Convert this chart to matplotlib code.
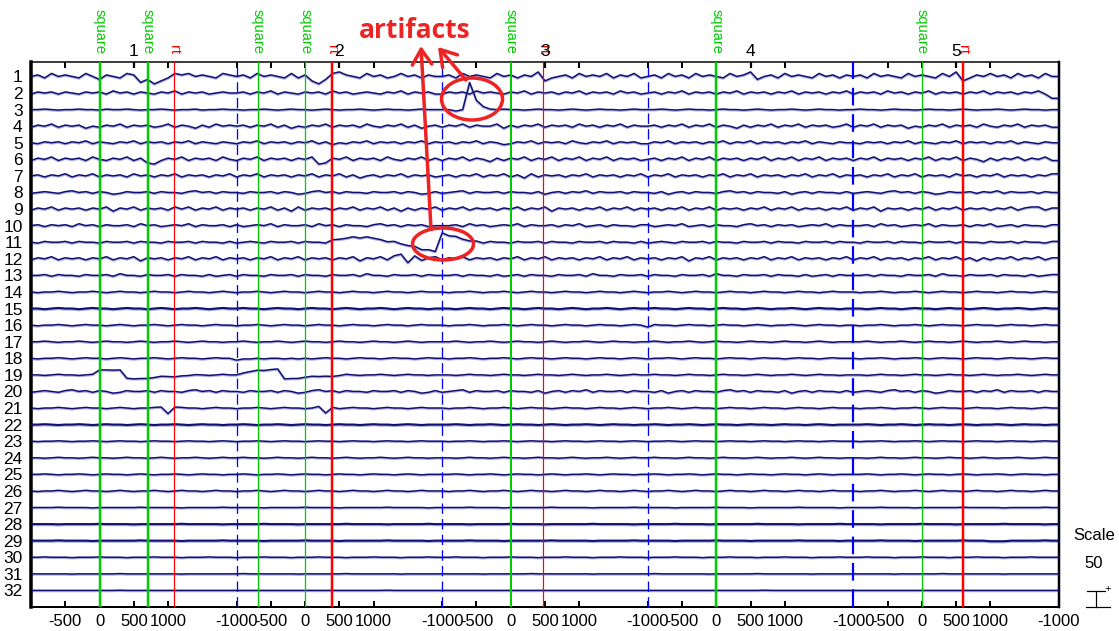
"""
EEG epoch scroll view (32 channels, 5 epochs) with marked artifacts.
"""
import matplotlib
import matplotlib.pyplot as plt
from matplotlib.patches import Ellipse
from matplotlib.transforms import blended_transform_factory
import numpy as np

matplotlib.use('agg')
plt.rcParams['font.family'] = ['Liberation Sans', 'DejaVu Sans']

# --- data -----------------------------------------------------------------
n_epochs = 5
epoch_times = [-1000, 2000]          # ms, per epoch
samples_per_epoch = 30
spacing = 50                         # uV between channels (= scale)
channels = list(range(1, 33))

# hand read wiggles, one digit per 100 ms sample, '5' = baseline, 5 groups = epochs
channel_wiggles = [
    "564756547536547613024767565476 564756547462037865475645756465 564756547564658245647565746574 564756475654756835647565475646 564756547565475824657564756475",
    "465646546564756465465746564565 564657465465647564565465746564 465647565465746564657465647564 564657465646574656465746564657 465647564657465646574656465740",
    "556545565546556545565455645565 545565456554565455654565545655 554565545655456554565456554565 556545655456554565455654565545 565545655456554565455654565545",
    "465746563546574656457465364756 564657463546574656475465746356 465746557364657465647564657465 564657465746536465746574656457 465746563546574656475465746564",
    "546564657465465746564657465465 465746564657463546574656465746 564657465346574656475465746564 465746564657465746564657465465 546564657465465746564657465465",
    "465746564754657462146574656475 465746564657126574656475465746 465746536465746574657465746564 564657465746564657465746574656 465746564657465746536465746574",
    "564657465746564756465746564657 465746564657465746356465746564 564657465746374656465746564657 465746564657465746564657465746 564657465746564756465746564657",
    "456546756465346556465546756465 546556465346756465546556465346 456746556465546356465746556465 546356465546756465546356465546 456546756465346556465746556465",
    "465746564657365746564757465746 564657463746564657465746364657 465746564657465736564657465746 564657465746564657465746564657 465736564657465746564657467746",
    "564656475646556475645657465564 645657465564756465546756465645 556475645657465564657456465546 645657456465546756465645657465 556475645657465564657456465546",
    "546556465546556465546556465546 456546556465546556465546556465 546556465546556465546556465546 456546556465546556465546556465 546556465546556465546556465546",
    "465746564657465736564657465746 564657465746564657365746564657 465746564657465746564657465746 564657365746564657465746564657 465746564657465746364657465746",
    "556465546556475546556465546456 465546556465546556475546556465 556465546456465546556475546556 465546556475546556465546456465 556465546556475546556465546456",
    "545565455654565545655456554565 455654565545655456554565545655 545565455654565545655456554565 455654565545655456554565545655 545565455654565545655456554565",
    "554565545655456554565455654565 565545655456554565455654565545 554565545655456554565455654565 565545655456554565455654565545 554565545655456554565455654565",
    "545565456554565455654565545655 455654565545655456554565545655 545565455654565545655456554565 265545655456554565455654565545 545565455654565545655456554565",
    "556545565456554565455654565545 565455654565545655456554565455 556545565456554565455654565545 565455654565545655456554565455 556545565456554565455654565545",
    "545565456554565455654565545655 244545545454565545655456554565 545565455654565545655456554565 455654565545655456554565545655 545565455654565545655456554565",
    "554565545655456554565455654565 565545655456554565455654565545 554565545655456554565455654565 565545655456554565455654565545 554565545655456554565455654565",
    "456546756465346556465546756465 546556465346756465546556465346 456746556465546356465746556465 546356465546756465546356465546 456546756465346556465746556465",
    "545565456554565455654565545655 455654565545655456554565545655 545565455654565545655456554565 455654565545655456554565545655 545565455654565545655456554565",
    "556545565456554565455654565545 565455654565545655456554565455 556545565456554565455654565545 565455654565545655456554565455 556545565456554565455654565545",
    "545565455654565545655456554565 455654565545655456554565545655 545565455654565545655456554565 455654565545655456554565545655 545565455654565545655456554565",
    "554565545655456554565455654565 565545655456554565455654565545 554565545655456554565455654565 565545655456554565455654565545 554565545655456554565455654565",
    "556545565456554565455654565545 565455654565545655456554565455 556545565456554565455654565545 565455654565545655456554565455 556545565456554565455654565545",
    "545565456554565455654565545655 455654565545655456554565545655 545565455654565545655456554565 455654565545655456554565545655 545565455654565545655456554565",
    "555565555455555565555545555565 555545555565555455555565555545 555565555455555565555545555565 555545555565555455555565555545 555565555455555565555545555565",
    "555545555565555455555565555545 555565555455555565555545555565 555545555565555455555565555545 555565555455555565555545555565 555545555565555455555565555545",
    "555565555455555565555545555565 555545555565555455555565555545 555565555455555565555545555565 555545555565555455555565555545 555565555455555565553335555565",
    "556555455565554555655545556555 455565554555655545556555455565 556555455565554555655545556555 455565554555655545556555455565 556555455565554555655545556555",
    "555555455555565555555545555555 565555555455555565555555455555 555555455555565555555545555555 565555555455555565555555455555 555555455555565555555545555555",
    "555555555555565555555555555555 555555555555555555555565555555 555555555555555555555555555555 555555555555555556555555555555 555555555555555555555555555555",
]
channel_gain = [4.5, 3.2, 1.5, 3.2, 2.9, 3.6, 3.2, 2.6, 3.2, 2.9,
                2.5, 3.2, 2.6, 2.1, 1.9, 2.0, 1.9, 1.9, 1.8, 2.6,
                1.9, 1.2, 1.2, 1.4, 1.4, 1.8, 0.9, 0.9, 0.9, 1.1,
                0.8, 0.6]
thick_channels = [15, 22, 28, 29]

# artifacts / steps: channel -> [(first sample, values in uV)]
bumps = {
    3: [(62, [-3, 0, 80, 28, 9, 3])],
    11: [(44, [5, 9, 12, 14, 15, 14, 12, 8, 4, 0, -5, -10, -15, -20, -25, -28,
               28, 22, 15, 9, 4, 1])],
    12: [(53, [6, 14, -15, 12, -8, 3])],
    19: [(10, [15, 15, 16, 15, -12, -12, -11, -9, -8, -6, -5, -4, -3, -2, -1]),
         (31, [4, 10, 14, 15, 16, 16, -12, -11, -9, -7, -6, -5, -4, -3, -2])],
    21: [(19, [3, -15, 3]), (42, [3, -15, 2])],
}

# events: (epoch, latency ms, type, line width px)
events = [
    (1, 0, 'square', 2.5), (1, 705, 'square', 2.5), (1, 1087, 'rt', 1.2),
    (2, -688, 'square', 1.3), (2, 0, 'square', 1.3), (2, 392, 'rt', 2.5),
    (3, 0, 'square', 2.0), (3, 471, 'rt', 1.2),
    (4, 0, 'square', 2.5),
    (5, 0, 'square', 1.2), (5, 600, 'rt', 2.5),
]
event_colors = {'square': '#00cc00', 'rt': '#ff0000'}
tick_times = [-1000, -500, 0, 500, 1000]

# --- drawing ----------------------------------------------------------------
PX = 0.72  # points per pixel at 100 dpi
epoch_len = epoch_times[1] - epoch_times[0]
total = n_epochs * epoch_len


def to_x(epoch, latency):
    return (epoch - 1) * epoch_len + latency - epoch_times[0]


fig = plt.figure(figsize=(11.19, 6.31), dpi=100)
ax = fig.add_axes([31 / 1119, 1 - 607 / 631, (1059 - 31) / 1119, (607 - 61.5) / 631])

n_samples = n_epochs * samples_per_epoch
x = np.arange(n_samples) * (epoch_len / samples_per_epoch)
x = np.append(x, total)
for ch, wig, gain in zip(channels, channel_wiggles, channel_gain):
    groups = wig.split()
    digits = ''.join((g + '5' * samples_per_epoch)[:samples_per_epoch] for g in groups)
    digits = (digits + '5' * n_samples)[:n_samples]
    vals = (np.array([int(c) for c in digits], dtype=float) - 5) * gain
    for start, seg in bumps.get(ch, []):
        vals[start:start + len(seg)] += seg
    vals = np.append(vals, vals[-1])
    base = (len(channels) + 1 - ch) * spacing
    lw = 2.0 if ch in thick_channels else 1.4
    ax.plot(x, base + vals - 1.5, color='#a9a9d9', lw=(lw + 1.2) * PX, zorder=2)
    ax.plot(x, base + vals, color='#101070', lw=lw * PX, zorder=3)

# epoch boundaries
for e, lw in zip(range(1, n_epochs + 1), [1.3, 1.3, 1.3, 2.2, 1.2]):
    ax.axvline(e * epoch_len, color='#0000ff', lw=lw * PX, ls=(0, (8, 4)), zorder=4)

# events
top = blended_transform_factory(ax.transData, ax.transAxes)
for epoch, lat, kind, lw in events:
    xe = to_x(epoch, lat)
    ax.axvline(xe, color=event_colors[kind], lw=lw * PX, zorder=5)
    ax.text(xe, 1 + 8 / 546, kind, transform=top, rotation=-90, ha='center',
            va='bottom', color=event_colors[kind], fontsize=10.5, clip_on=False)

# epoch numbers and bold top ticks
for e in range(1, n_epochs + 1):
    xc = to_x(e, sum(epoch_times) / 2)
    ax.text(xc, 1 + 10.5 / 546, str(e), transform=top, ha='center', va='center',
            fontsize=12.5, color='black')
    ax.plot([xc, xc], [1, 1 - 7 / 546], transform=top, color='black',
            lw=2.2 * PX, solid_capstyle='butt', zorder=6, clip_on=False)

ax.set_xlim(0, total)
ax.set_ylim(0, (len(channels) + 0.9) * spacing)

ticks, labels = [], []
for e in range(1, n_epochs + 1):
    for t in tick_times:
        if e == 1 and t == -1000:
            continue
        ticks.append(to_x(e, t))
        labels.append(str(t))
ticks.append(total)
labels.append(str(epoch_times[0]))
ax.set_xticks(ticks)
ax.set_xticklabels(labels, fontsize=12)
ax.tick_params(axis='x', direction='in', length=6 * PX, width=2 * PX, pad=5,
               top=True, bottom=True)
ax.set_yticks([(len(channels) + 1 - ch) * spacing for ch in channels])
ax.set_yticklabels([str(ch) for ch in channels], fontsize=12.5)
ax.tick_params(axis='y', length=0, pad=6)

for side, w in [('left', 3.5), ('right', 2.5), ('top', 1.5), ('bottom', 2.0)]:
    ax.spines[side].set_linewidth(w * PX)
    ax.spines[side].set_color('black')

# overlay in pixel coordinates: scale and hand drawn annotation
ov = fig.add_axes([0, 0, 1, 1], zorder=10)
ov.set_xlim(0, 1119)
ov.set_ylim(631, 0)
ov.axis('off')
ov.patch.set_alpha(0)

ov.text(1094, 536, 'Scale', ha='center', va='center', fontsize=12)
ov.text(1094, 564, str(spacing), ha='center', va='center', fontsize=12)
ov.plot([1087, 1105], [591, 591], color='black', lw=1.2 * PX)
ov.plot([1096, 1096], [591, 607], color='black', lw=1.2 * PX)
ov.plot([1086, 1110], [607, 607], color='black', lw=1.2 * PX)
ov.text(1108, 589, '+', ha='center', va='center', fontsize=8)

red = '#ee2424'
ov.text(415, 31, 'artifacts', ha='center', va='center', color=red,
        fontsize=19, fontweight='bold', family='Open Sans')
ov.add_patch(Ellipse((472, 99), 61, 42, fill=False, ec=red, lw=3.5 * PX))
ov.add_patch(Ellipse((443, 244), 61, 32, fill=False, ec=red, lw=3.5 * PX))
arrow = dict(arrowstyle='->,head_length=0.55,head_width=0.35', color=red,
             lw=3.5 * PX, shrinkA=0, shrinkB=0, mutation_scale=20)
ov.annotate('', xy=(421, 46), xytext=(431, 229), arrowprops=arrow)
ov.annotate('', xy=(438, 47), xytext=(466, 80), arrowprops=arrow)

plt.savefig('out.png', dpi=100)
plt.close()
